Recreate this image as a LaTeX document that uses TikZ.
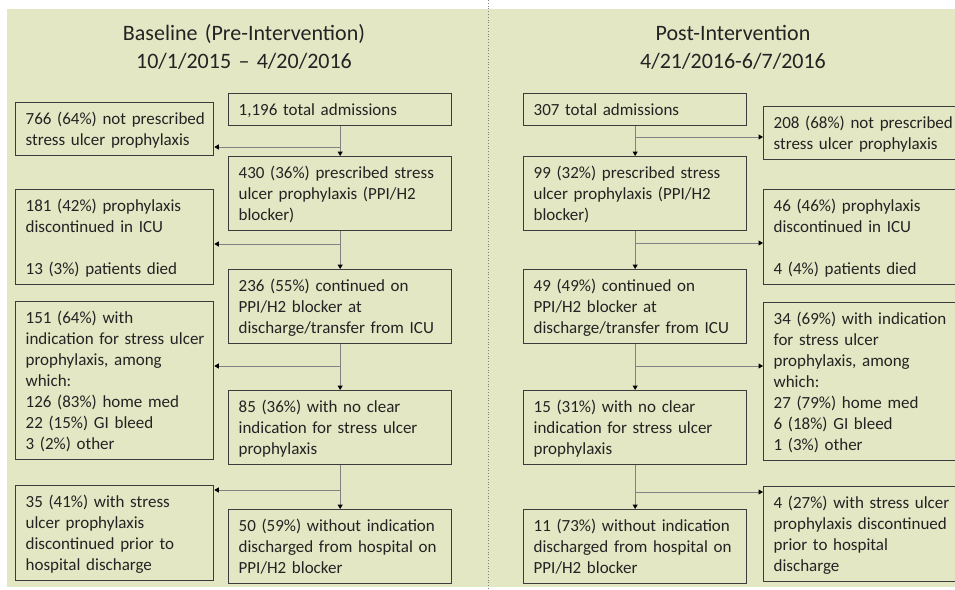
\documentclass[tikz,border=0pt]{standalone}
\usepackage{fontspec}
\setmainfont{Carlito}
\usetikzlibrary{arrows.meta}
\definecolor{bggreen}{RGB}{227,231,196}
\definecolor{boxline}{RGB}{60,60,60}
\definecolor{connline}{RGB}{130,130,130}
\definecolor{txt}{RGB}{35,35,35}
\newcommand{\tstr}{\rule{0pt}{19pt}}
\newcommand{\bstr}{\rule[-7pt]{0pt}{7pt}}
\tikzset{
  flowbox/.style={draw=boxline, line width=1.3pt, rectangle, anchor=north west, align=left,
    inner xsep=10pt, inner ysep=3pt, font=\fontsize{17}{21}\selectfont, text=txt},
  cbox/.style={flowbox, text width=203pt},
  lbox/.style={flowbox, text width=178pt},
  rbox/.style={flowbox, text width=192pt},
  titletext/.style={anchor=base, align=center, text width=330pt, inner sep=0pt,
    font=\fontsize{22}{28}\selectfont, text=txt},
  conn/.style={draw=connline, line width=1pt,
    -{Triangle[length=4.5pt,width=5pt,color=black]}},
}
\begin{document}
\begin{tikzpicture}[x=1pt,y=-1pt]
\useasboundingbox (0,0) rectangle (955,589);
\fill[bggreen] (7,9) rectangle (955,587);
\draw[gray, line width=0.8pt, dotted] (488,0) -- (488,589);

% titles
\node[titletext] (title1) at (244,40) {Baseline (Pre-Intervention)\\10/1/2015 -- 4/20/2016};
\node[titletext] (title2) at (733,40) {Post-Intervention\\4/21/2016-6/7/2016};

% left column
\node[cbox] (tot1) at (228,93) {\tstr 1,196 total admissions\bstr};
\node[lbox] (not1) at (15,102) {\tstr\mbox{766 (64\%) not prescribed}\\\mbox{stress ulcer prophylaxis}\bstr};
\node[cbox] (pre1) at (228,156) {\tstr\mbox{430 (36\%) prescribed stress}\\\mbox{ulcer prophylaxis (PPI/H2}\\blocker)\bstr};
\node[lbox] (dis1) at (15,189) {\tstr\mbox{181 (42\%) prophylaxis}\\\mbox{discontinued in ICU}\\\mbox{}\\\mbox{13 (3\%) patients died}\bstr};
\node[cbox] (con1) at (228,269) {\tstr\mbox{236 (55\%) continued on}\\\mbox{PPI/H2 blocker at}\\\mbox{discharge/transfer from ICU}\bstr};
\node[lbox] (ind1) at (15,301) {\tstr\mbox{151 (64\%) with}\\\mbox{indication for stress ulcer}\\\mbox{prophylaxis, among}\\which:\\\mbox{126 (83\%) home med}\\\mbox{22 (15\%) GI bleed}\\\mbox{3 (2\%) other}\bstr};
\node[cbox] (noi1) at (228,390) {\tstr\mbox{85 (36\%) with no clear}\\\mbox{indication for stress ulcer}\\prophylaxis\bstr};
\node[lbox] (stp1) at (15,485) {\tstr\mbox{35 (41\%) with stress}\\\mbox{ulcer prophylaxis}\\\mbox{discontinued prior to}\\\mbox{hospital discharge}\bstr};
\node[cbox] (wo1) at (228,509) {\tstr\mbox{50 (59\%) without indication}\\\mbox{discharged from hospital on}\\\mbox{PPI/H2 blocker}\bstr};

% right column
\node[cbox] (tot2) at (523,93) {\tstr 307 total admissions\bstr};
\node[rbox] (not2) at (763,106) {\tstr\mbox{208 (68\%) not prescribed}\\\mbox{stress ulcer prophylaxis}\bstr};
\node[cbox] (pre2) at (523,156) {\tstr\mbox{99 (32\%) prescribed stress}\\\mbox{ulcer prophylaxis (PPI/H2}\\blocker)\bstr};
\node[rbox] (dis2) at (763,189) {\tstr\mbox{46 (46\%) prophylaxis}\\\mbox{discontinued in ICU}\\\mbox{}\\\mbox{4 (4\%) patients died}\bstr};
\node[cbox] (con2) at (523,269) {\tstr\mbox{49 (49\%) continued on}\\\mbox{PPI/H2 blocker at}\\\mbox{discharge/transfer from ICU}\bstr};
\node[rbox] (ind2) at (763,302) {\tstr\mbox{34 (69\%) with indication}\\\mbox{for stress ulcer}\\\mbox{prophylaxis, among}\\which:\\\mbox{27 (79\%) home med}\\\mbox{6 (18\%) GI bleed}\\\mbox{1 (3\%) other}\bstr};
\node[cbox] (noi2) at (523,390) {\tstr\mbox{15 (31\%) with no clear}\\\mbox{indication for stress ulcer}\\prophylaxis\bstr};
\node[rbox] (stp2) at (763,486) {\tstr\mbox{4 (27\%) with stress ulcer}\\\mbox{prophylaxis discontinued}\\\mbox{prior to hospital}\\discharge\bstr};
\node[cbox] (wo2) at (523,509) {\tstr\mbox{11 (73\%) without indication}\\\mbox{discharged from hospital on}\\\mbox{PPI/H2 blocker}\bstr};

% branch points
\coordinate (j1) at (339.5,147);
\coordinate (j2) at (339.5,244);
\coordinate (j3) at (339.5,366);
\coordinate (j4) at (339.5,490);
\coordinate (k1) at (634.5,137);
\coordinate (k2) at (634.5,243);
\coordinate (k3) at (634.5,366);
\coordinate (k4) at (634.5,492);

% connectors left
\draw[conn] (tot1.south) -- (pre1.north);
\draw[conn] (pre1.south) -- (con1.north);
\draw[conn] (con1.south) -- (noi1.north);
\draw[conn] (noi1.south) -- (wo1.north);
\draw[conn] (j1) -- (not1.east |- j1);
\draw[conn] (j2) -- (dis1.east |- j2);
\draw[conn] (j3) -- (ind1.east |- j3);
\draw[conn] (j4) -- (stp1.east |- j4);

% connectors right
\draw[conn] (tot2.south) -- (pre2.north);
\draw[conn] (pre2.south) -- (con2.north);
\draw[conn] (con2.south) -- (noi2.north);
\draw[conn] (noi2.south) -- (wo2.north);
\draw[conn] (k1) -- (not2.west |- k1);
\draw[conn] (k2) -- (dis2.west |- k2);
\draw[conn] (k3) -- (ind2.west |- k3);
\draw[conn] (k4) -- (stp2.west |- k4);
\end{tikzpicture}
\end{document}
